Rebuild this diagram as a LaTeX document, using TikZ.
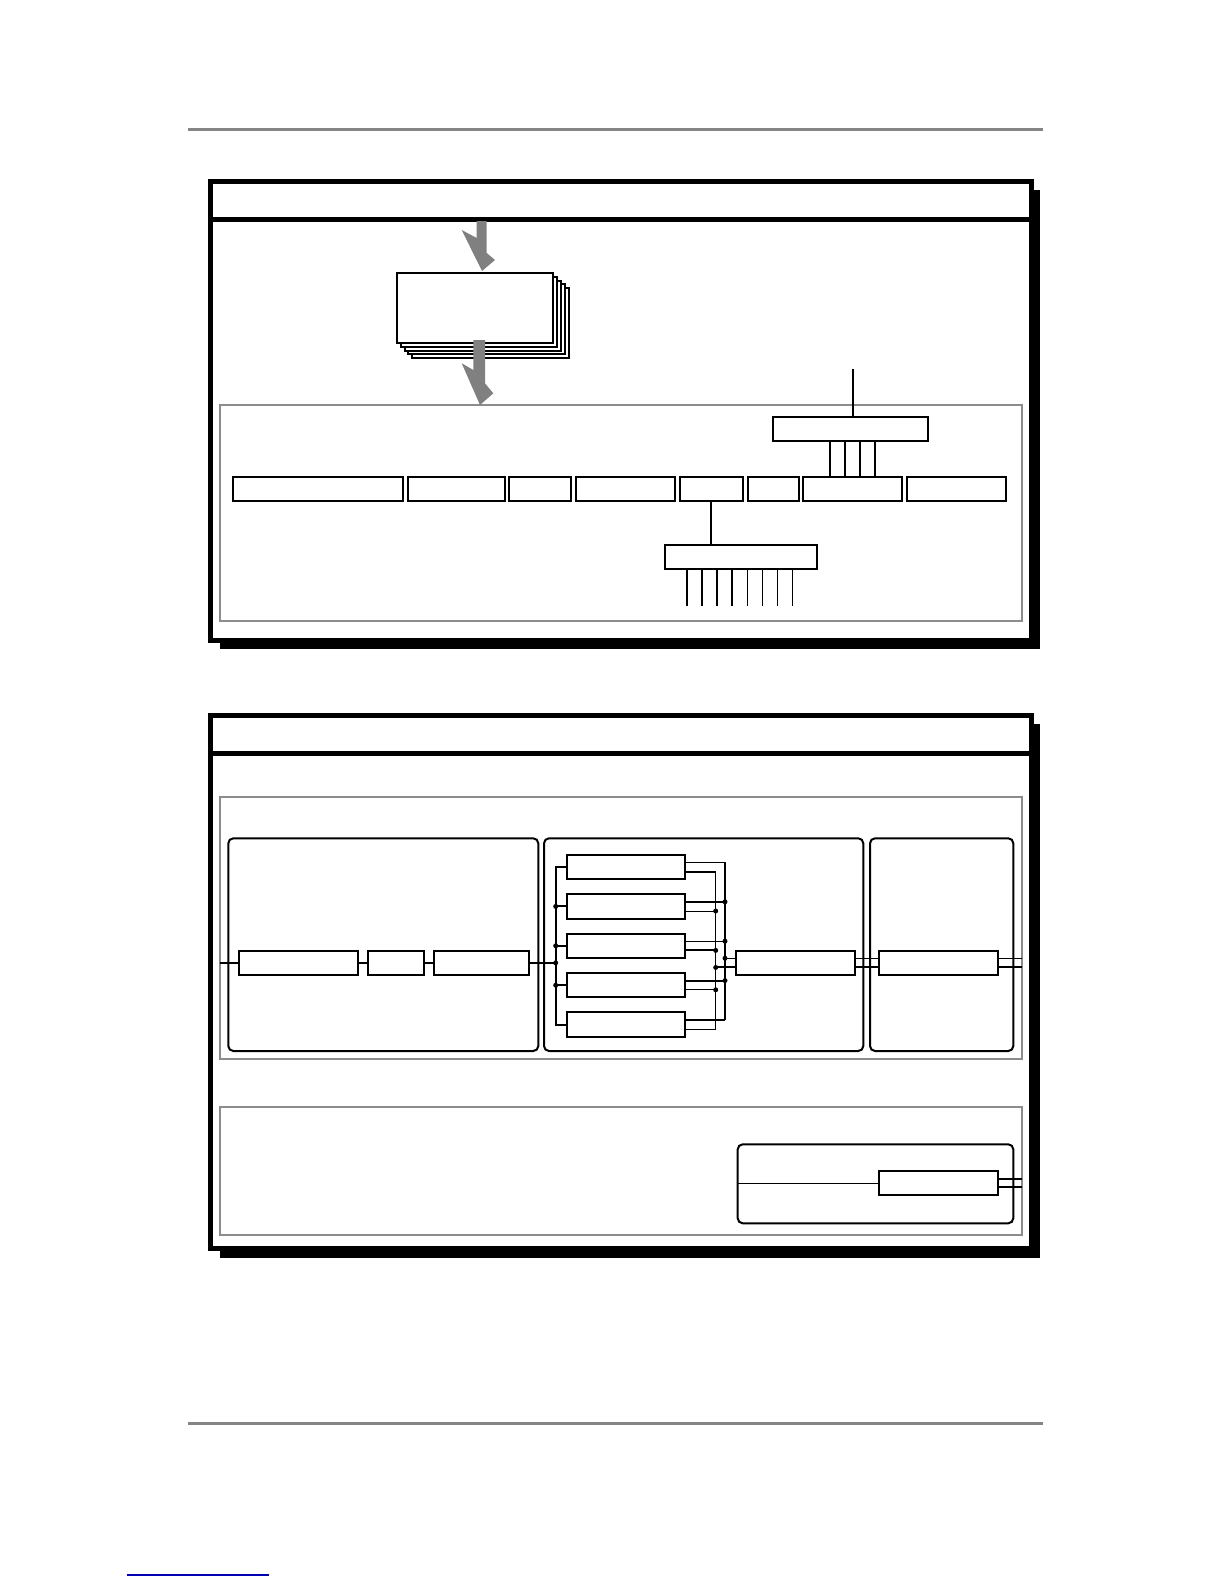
\documentclass[tikz,border=0pt]{standalone}
\usetikzlibrary{positioning,shadows}

\begin{document}
\begin{tikzpicture}[
        x=1pt, y=-1pt,
        node distance=4.7pt,
        frame/.style={rectangle, draw, line width=5pt, fill=white, inner sep=0pt, outer sep=0pt,
            drop shadow={shadow xshift=9pt, shadow yshift=-9pt, fill=black, opacity=1}},
        frameline/.style={line width=5pt},
        area/.style={rectangle, draw=black!45, line width=2pt, inner sep=0pt, outer sep=0pt},
        panel/.style={rectangle, draw, line width=2pt, rounded corners=5pt, inner sep=0pt, outer sep=0pt},
        box/.style={rectangle, draw, line width=2pt, fill=white, inner sep=0pt, outer sep=0pt, minimum height=24.4pt},
        stackbox/.style={box, minimum width=156.6pt, minimum height=70pt},
        thickw/.style={line width=2pt},
        thinw/.style={line width=1pt},
        dot/.style={circle, fill, inner sep=0pt, minimum size=5pt},
        bigarrow/.style={fill=black!50},
        rule/.style={line width=3.5pt, black!48},
    ]
    \useasboundingbox (0,0) rectangle (1224,1584);

    % === page rules ===
    \coordinate (ruleTL) at (188,129.3);
    \coordinate (ruleTR) at (1043,129.3);
    \coordinate (ruleBL) at (188,1423.5);
    \coordinate (ruleBR) at (1043,1423.5);
    \coordinate (linkL) at (127,1575);
    \coordinate (linkR) at (269,1575);
    \draw[rule] (ruleTL) -- (ruleTR);
    \draw[rule] (ruleBL) -- (ruleBR);
    \draw[line width=1.2pt, blue!70!black] (linkL) -- (linkR);

    % === Frame 1 ===
    \node[frame, minimum width=820.5pt, minimum height=459pt] (frameA) at (620.75,410.5) {};
    \draw[frameline] ([yshift=-38pt]frameA.north west) -- ([yshift=-38pt]frameA.north east);
    \node[area, minimum width=802.5pt, minimum height=216pt] (grayA) at (620.75,513) {};

    % stacked sheets
    \foreach \k in {4,3,2,1}
        \node[stackbox] (sheet\k) at (475+3.9*\k, 307.7+3.9*\k) {};
    \node[stackbox] (docs) at (475,307.7) {};

    % gray arrows
    \fill[bigarrow] (476.7,221) -- (486.7,221) -- (486.7,253) -- (495,260) -- (482,271)
        -- (461.7,230) -- (476.7,238) -- cycle;
    \fill[bigarrow] (473.3,340) -- (485,340) -- (485,383.3) -- (493.3,393.3) -- (480,405)
        -- (461.7,363.3) -- (473.3,370) -- cycle;

    % field row
    \node[box, minimum width=170pt] (r1) at (318.3,488.85) {};
    \node[box, minimum width=96.7pt, right=of r1] (r2) {};
    \node[box, minimum width=61.7pt, right=of r2] (r3) {};
    \node[box, minimum width=99.3pt, right=of r3] (r4) {};
    \node[box, minimum width=63pt, right=of r4] (r5) {};
    \node[box, minimum width=51pt, right=of r5] (r6) {};
    \node[box, minimum width=99pt, right=of r6] (r7) {};
    \node[box, minimum width=98.6pt, right=of r7] (r8) {};

    % upper split
    \node[box, minimum width=155pt] (U) at (850.8,428.85) {};
    \coordinate (uin) at (852.7,369);
    \draw[thickw] (uin) -- (uin |- U.north);
    \foreach \dx in {-22.5,-7.5,7.5,22.5}
        \draw[thickw] ([xshift=\dx pt]r7.north) -- ([xshift=\dx pt]r7.north |- U.south);

    % lower split
    \node[box, minimum width=152pt] (L) at (741,556.85) {};
    \draw[thickw] (r5.south) -- (r5.south |- L.north);
    \foreach \k in {0,...,3}
        \draw[thickw] (L.south west) ++(21.7+15.15*\k,0) -- ++(0,36.85);
    \foreach \k in {4,...,7}
        \draw[line width=1.4pt] (L.south west) ++(21.7+15.15*\k,0) -- ++(0,36.85);

    % === Frame 2 ===
    \node[frame, minimum width=820.5pt, minimum height=533.5pt] (frameB) at (620.75,981.75) {};
    \draw[frameline] ([yshift=-38pt]frameB.north west) -- ([yshift=-38pt]frameB.north east);
    \node[area, minimum width=802.5pt, minimum height=262pt] (grayB) at (620.75,928) {};
    \node[area, minimum width=802.5pt, minimum height=128pt] (grayC) at (620.75,1171) {};

    \node[panel, minimum width=310pt, minimum height=212.7pt] (panelA) at (383.3,944.65) {};
    \node[panel, minimum width=319.3pt, minimum height=212.7pt] (panelB) at (703.65,944.65) {};
    \node[panel, minimum width=143.3pt, minimum height=212.7pt] (panelC) at (941.65,944.65) {};
    \node[panel, minimum width=275.6pt, minimum height=79pt] (panelD) at (875.5,1183.8) {};

    % chain A
    \node[box, minimum width=119pt] (A1) at (298.8,962.85) {};
    \node[box, minimum width=55.7pt, right=10pt of A1] (A2) {};
    \node[box, minimum width=95pt, right=10.3pt of A2] (A3) {};
    \coordinate (busL) at (555.7,962.85);
    \draw[thickw] (grayB.west |- A1.west) -- (A1.west);
    \draw[thickw] (A1) -- (A2);
    \draw[thickw] (A2) -- (A3);
    \draw[thickw] (A3.east) -- (busL) node[dot] {};

    % parallel B
    \node[box, minimum width=118.6pt] (B1) at (626,867) {};
    \node[box, minimum width=118.6pt, below=15pt of B1] (B2) {};
    \node[box, minimum width=118.6pt, below=15pt of B2] (B3) {};
    \node[box, minimum width=118.6pt, below=15pt of B3] (B4) {};
    \node[box, minimum width=118.6pt, below=15pt of B4] (B5) {};
    \draw[thickw] (B1.west) -| (busL) |- (B5.west);
    \foreach \b in {B2,B3,B4}
        \draw[thickw] (\b.west) -- (\b.west -| busL) node[dot] {};

    \coordinate (outer) at (725,0);
    \coordinate (inner) at (715.7,0);
    \foreach \b/\up/\lo in {B1/thinw/thickw, B2/thickw/thinw, B3/thinw/thickw, B4/thickw/thinw, B5/thickw/thinw} {
        \coordinate (\b-up) at ([yshift=4.6pt]\b.east);
        \coordinate (\b-lo) at ([yshift=-4.6pt]\b.east);
        \draw[\up] (\b-up) -- (\b-up -| outer);
        \draw[\lo] (\b-lo) -- (\b-lo -| inner);
    }
    \draw[thickw] (B1-up -| outer) -- (B5-up -| outer);
    \draw[thinw] (B1-lo -| inner) -- (B5-lo -| inner);
    \foreach \b in {B2,B3,B4} {
        \node[dot] at (\b-up -| outer) {};
        \node[dot] at (\b-lo -| inner) {};
    }

    % mixer and output
    \node[box, minimum width=119.3pt] (M) at (795.35,962.85) {};
    \node[box, minimum width=118.7pt, right=24pt of M] (C1) {};
    \coordinate (M-up) at ([yshift=4.6pt]M.west);
    \coordinate (M-lo) at ([yshift=-4.6pt]M.west);
    \draw[thinw] (M-up -| outer) node[dot] {} -- (M-up);
    \draw[thickw] (M-lo -| inner) node[dot] {} -- (M-lo);
    \draw[thinw] ([yshift=4.6pt]M.east) -- ([yshift=4.6pt]C1.west);
    \draw[thickw] ([yshift=-4.6pt]M.east) -- ([yshift=-4.6pt]C1.west);
    \coordinate (C1-up) at ([yshift=4.6pt]C1.east);
    \coordinate (C1-lo) at ([yshift=-4.6pt]C1.east);
    \draw[thinw] (C1-up) -- (C1-up -| grayB.east);
    \draw[thickw] (C1-lo) -- (C1-lo -| grayB.east);

    % panel D
    \node[box, minimum width=119.3pt, minimum height=24.6pt] (D1) at (938.65,1183) {};
    \draw[thinw] (panelD.west |- D1.west) -- (D1.west);
    \coordinate (D1-up) at ([yshift=4.4pt]D1.east);
    \coordinate (D1-lo) at ([yshift=-4.4pt]D1.east);
    \draw[thickw] (D1-up) -- (D1-up -| grayC.east);
    \draw[thickw] (D1-lo) -- (D1-lo -| grayC.east);

\end{tikzpicture}
\end{document}
